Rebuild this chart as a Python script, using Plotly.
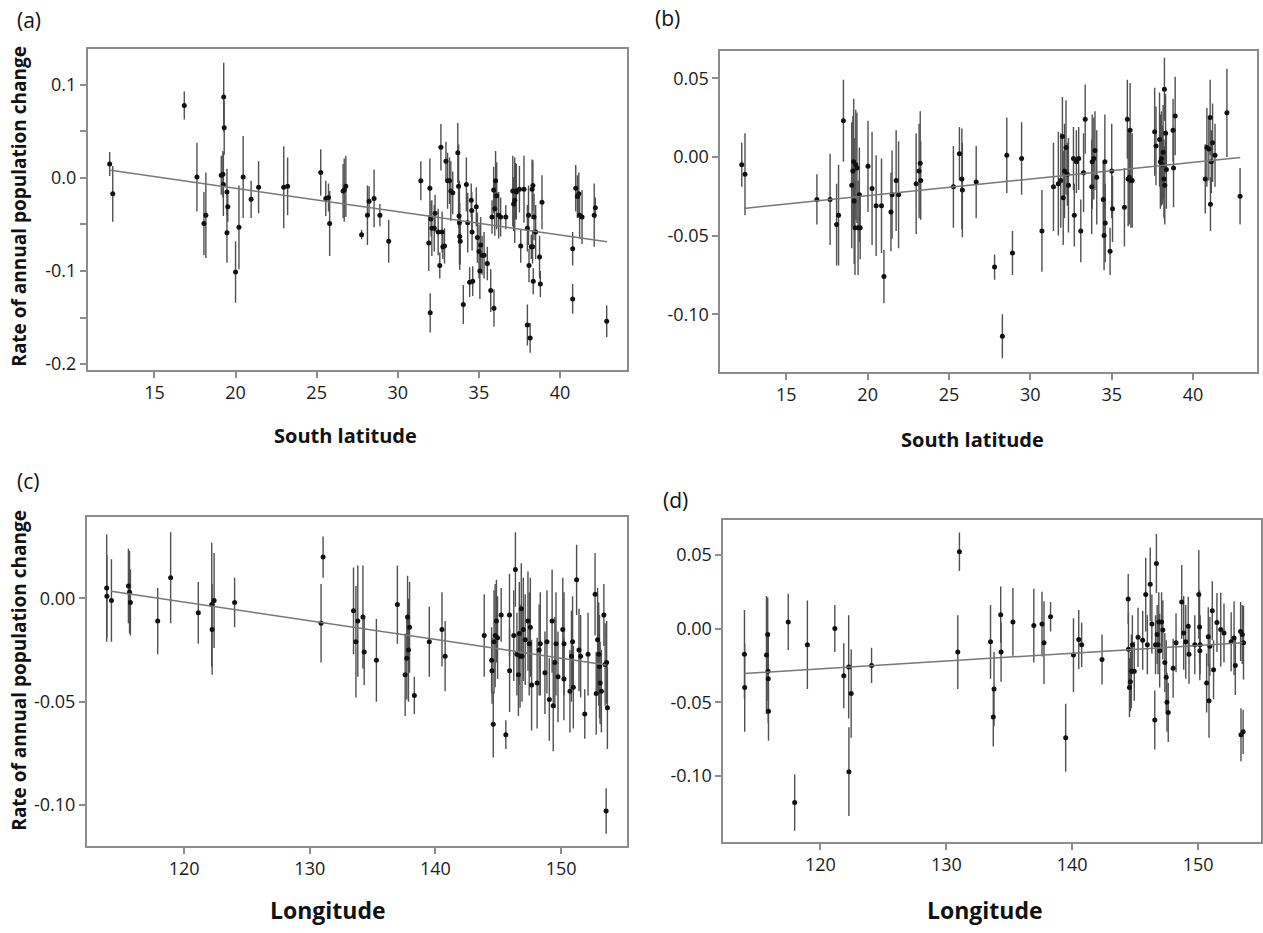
import plotly.graph_objects as go

W, H = 1263, 933

# ---------------- Panel (a): latitude vs rate ----------------
a_lat = [12.24, 12.43, 16.84, 17.62, 18.05, 18.17, 19.12, 19.22, 19.27, 19.30, 19.25, 19.47, 19.47, 19.52,
         20.00, 20.21, 20.47, 20.96, 21.42, 22.97, 23.21, 25.25, 25.56, 25.73, 25.80, 26.63, 26.70, 26.80,
         27.77, 28.13, 28.23, 28.54, 28.90, 29.44, 31.42, 31.91, 31.98, 32.00, 32.05, 32.10, 32.25, 32.30,
         32.49, 32.59, 32.66, 32.73, 32.78, 32.88, 32.97, 33.07, 33.19, 33.27, 33.39, 33.70, 33.75, 33.80,
         33.82, 33.78, 33.85, 34.04, 34.23, 34.31, 34.43, 34.53, 34.56, 34.58, 34.62, 34.84, 34.91, 35.01,
         35.06, 35.11, 35.20, 35.32, 35.52, 35.73, 35.81, 35.91, 35.93, 35.98, 36.03, 36.10, 36.22, 36.34,
         36.66, 37.09, 37.14, 37.21, 37.26, 37.31, 37.50, 37.58, 37.78, 37.99, 37.99, 38.06, 38.09, 38.16,
         38.23, 38.28, 38.33, 38.31, 38.35, 38.40, 38.50, 38.74, 38.79, 38.89, 40.78, 40.78, 40.97, 41.07,
         41.16, 41.21, 41.36, 42.11, 42.18, 42.88]
a_rate = [0.015, -0.017, 0.078, 0.001, -0.049, -0.040, 0.003, 0.004, 0.087, 0.054, -0.007, -0.015, -0.059, -0.031,
          -0.101, -0.053, 0.001, -0.023, -0.010, -0.010, -0.009, 0.006, -0.022, -0.021, -0.049, -0.014, -0.013, -0.009,
          -0.061, -0.040, -0.025, -0.022, -0.040, -0.068, -0.003, -0.070, -0.011, -0.145, -0.044, -0.054, -0.054, -0.038,
          -0.058, -0.094, 0.033, -0.058, -0.074, -0.073, 0.018, -0.003, -0.003, -0.014, -0.016, 0.027, -0.009, -0.048,
          -0.063, -0.041, -0.068, -0.136, -0.007, -0.048, -0.112, -0.024, -0.035, -0.058, -0.111, -0.031, -0.064, -0.079,
          -0.100, -0.072, -0.083, -0.083, -0.092, -0.121, -0.042, -0.013, -0.140, -0.033, -0.003, -0.019, -0.040, -0.042,
          -0.042, -0.014, -0.028, -0.024, -0.014, -0.015, -0.012, -0.073, -0.012, -0.054, -0.158, -0.040, -0.094, -0.172,
          -0.074, -0.012, -0.008, -0.074, -0.111, -0.042, -0.058, -0.085, -0.114, -0.026, -0.076, -0.130, -0.011, -0.020,
          -0.017, -0.040, -0.042, -0.040, -0.032, -0.154]
a_err = [0.013, 0.030, 0.015, 0.037, 0.034, 0.046, 0.021, 0.025, 0.037, 0.029, 0.034, 0.025, 0.032, 0.016,
         0.033, 0.045, 0.044, 0.020, 0.028, 0.044, 0.031, 0.025, 0.019, 0.015, 0.035, 0.029, 0.034, 0.033,
         0.005, 0.032, 0.016, 0.031, 0.012, 0.023, 0.021, 0.030, 0.032, 0.021, 0.019, 0.030, 0.025, 0.020,
         0.025, 0.014, 0.025, 0.022, 0.013, 0.019, 0.021, 0.030, 0.025, 0.032, 0.023, 0.032, 0.045, 0.045,
         0.036, 0.030, 0.025, 0.021, 0.029, 0.032, 0.016, 0.018, 0.020, 0.020, 0.016, 0.021, 0.027, 0.029,
         0.030, 0.030, 0.021, 0.025, 0.018, 0.023, 0.018, 0.025, 0.020, 0.029, 0.032, 0.036, 0.025, 0.021,
         0.013, 0.038, 0.029, 0.046, 0.030, 0.030, 0.025, 0.018, 0.036, 0.025, 0.022, 0.032, 0.018, 0.016,
         0.013, 0.032, 0.027, 0.018, 0.014, 0.025, 0.029, 0.023, 0.014, 0.029, 0.018, 0.016, 0.025, 0.023,
         0.023, 0.025, 0.029, 0.034, 0.011, 0.017]
a_fit_x = [12.3, 42.9]
a_fit_y = [0.0082, -0.0686]

# ---------------- Panel (b): latitude vs rate ----------------
b_lat = [12.26, 12.46, 16.88, 17.69, 18.09, 18.21, 18.51, 19.02, 19.09, 19.14, 19.17, 19.22, 19.27, 19.34,
         19.41, 19.49, 19.54, 20.02, 20.27, 20.52, 20.85, 21.00, 21.43, 21.50, 21.75, 21.90, 22.98, 23.16,
         23.23, 23.26, 25.27, 25.64, 25.79, 25.82, 26.67, 27.80, 28.28, 28.55, 28.90, 29.46, 30.71, 31.42,
         31.72, 31.87, 31.97, 32.02, 32.10, 32.19, 32.27, 32.34, 32.65, 32.70, 32.83, 32.97, 33.10, 33.27,
         33.37, 33.77, 33.80, 33.90, 33.97, 34.08, 34.48, 34.53, 34.58, 34.60, 34.90, 35.00, 35.05, 35.78,
         35.96, 36.01, 36.08, 36.13, 36.18, 36.26, 37.64, 37.72, 37.94, 37.99, 38.06, 38.11, 38.16, 38.21,
         38.24, 38.26, 38.31, 38.36, 38.77, 38.80, 38.90, 40.75, 40.85, 40.97, 41.05, 41.07, 41.12, 41.20,
         41.35, 42.08, 42.89]
b_rate = [-0.005, -0.011, -0.027, -0.027, -0.043, -0.037, 0.023, -0.018, -0.009, -0.003, -0.028, -0.045, -0.005, -0.007,
          -0.045, -0.024, -0.045, -0.006, -0.020, -0.031, -0.031, -0.076, -0.035, -0.024, -0.015, -0.024, -0.017, -0.009,
          -0.004, -0.015, -0.019, 0.002, -0.014, -0.021, -0.016, -0.070, -0.114, 0.001, -0.061, -0.001, -0.047, -0.019,
          -0.017, -0.015, 0.013, -0.026, -0.009, 0.006, -0.011, -0.018, -0.001, -0.037, -0.003, -0.001, -0.047, -0.010,
          0.024, -0.019, -0.003, -0.001, 0.004, -0.013, -0.027, -0.050, -0.003, -0.042, -0.060, -0.009, -0.033, -0.032,
          0.024, -0.014, -0.013, 0.017, -0.015, -0.015, 0.016, 0.007, 0.011, -0.003, -0.001, -0.005, 0.003, -0.014,
          0.043, -0.018, 0.015, -0.008, 0.017, -0.007, 0.026, -0.014, 0.006, 0.005, 0.025, -0.030, -0.003, 0.009,
          0.001, 0.028, -0.025]
b_err = [0.014, 0.026, 0.016, 0.029, 0.026, 0.032, 0.026, 0.040, 0.035, 0.040, 0.040, 0.030, 0.035, 0.035,
         0.030, 0.030, 0.020, 0.029, 0.036, 0.032, 0.030, 0.017, 0.025, 0.028, 0.032, 0.034, 0.032, 0.030,
         0.033, 0.025, 0.026, 0.017, 0.032, 0.030, 0.023, 0.008, 0.014, 0.024, 0.014, 0.023, 0.026, 0.028,
         0.033, 0.030, 0.025, 0.030, 0.030, 0.030, 0.020, 0.030, 0.020, 0.020, 0.020, 0.020, 0.020, 0.025,
         0.022, 0.030, 0.030, 0.026, 0.025, 0.030, 0.024, 0.022, 0.030, 0.025, 0.015, 0.030, 0.021, 0.025,
         0.025, 0.030, 0.030, 0.030, 0.030, 0.030, 0.028, 0.025, 0.030, 0.030, 0.030, 0.025, 0.030, 0.025,
         0.020, 0.025, 0.025, 0.025, 0.020, 0.025, 0.025, 0.022, 0.025, 0.020, 0.024, 0.017, 0.020, 0.025,
         0.020, 0.028, 0.018]
b_fit_x = [12.4, 42.9]
b_fit_y = [-0.0327, -0.0004]

# ---------------- Panel (c): longitude vs rate ----------------
c_lon = [113.84, 113.86, 114.22, 115.57, 115.66, 115.73, 117.90, 118.93, 121.13, 122.20, 122.23, 122.39, 124.02,
         130.90, 131.06, 133.48, 133.67, 133.82, 134.23, 134.33, 135.30, 136.97, 137.59, 137.72, 137.78, 137.85,
         137.94, 138.32, 139.51, 140.52, 140.77, 143.88, 144.47, 144.50, 144.60, 144.66, 144.75, 144.85, 144.94,
         145.23, 145.60, 145.89, 145.90, 146.23, 146.36, 146.48, 146.60, 146.67, 146.73, 146.83, 146.89, 146.99,
         147.14, 147.36, 147.46, 147.55, 147.65, 148.09, 148.25, 148.34, 148.71, 148.87, 149.06, 149.28, 149.37,
         149.50, 149.59, 149.75, 150.13, 150.22, 150.23, 150.70, 150.82, 150.91, 150.97, 151.23, 151.42, 151.55,
         151.88, 152.14, 152.70, 152.79, 152.90, 152.99, 153.05, 153.10, 153.20, 153.40, 153.50, 153.62, 153.68,
         153.58]
c_rate = [0.005, 0.001, -0.001, 0.006, 0.003, -0.002, -0.011, 0.010, -0.007, -0.003, -0.015, -0.001, -0.002,
          -0.012, 0.020, -0.006, -0.021, -0.011, -0.009, -0.026, -0.030, -0.003, -0.037, -0.029, -0.009, -0.025,
          -0.014, -0.047, -0.021, -0.015, -0.028, -0.018, -0.030, -0.035, -0.061, -0.021, -0.018, -0.011, -0.019,
          -0.008, -0.066, -0.008, -0.035, -0.018, 0.014, -0.027, -0.037, -0.017, -0.028, -0.005, -0.028, -0.015,
          -0.020, -0.011, -0.022, -0.014, -0.042, -0.041, -0.025, -0.022, -0.036, -0.021, -0.049, -0.011, -0.052,
          -0.031, -0.022, -0.038, -0.015, -0.039, -0.022, -0.045, -0.028, -0.021, -0.043, 0.009, -0.025, -0.028,
          -0.056, -0.027, 0.002, -0.046, -0.020, -0.027, -0.033, -0.041, -0.045, -0.008, -0.032, -0.031, -0.053,
          -0.103]
c_err = [0.026, 0.020, 0.020, 0.018, 0.020, 0.016, 0.016, 0.022, 0.015, 0.030, 0.022, 0.023, 0.012,
         0.019, 0.010, 0.021, 0.027, 0.027, 0.025, 0.016, 0.020, 0.019, 0.020, 0.020, 0.020, 0.025,
         0.022, 0.009, 0.017, 0.018, 0.017, 0.020, 0.016, 0.016, 0.016, 0.025, 0.025, 0.020, 0.020,
         0.013, 0.007, 0.020, 0.020, 0.022, 0.018, 0.020, 0.020, 0.025, 0.025, 0.022, 0.022, 0.025,
         0.022, 0.024, 0.025, 0.024, 0.022, 0.022, 0.022, 0.025, 0.020, 0.025, 0.020, 0.025, 0.022,
         0.022, 0.025, 0.022, 0.025, 0.020, 0.025, 0.020, 0.022, 0.022, 0.020, 0.017, 0.020, 0.020,
         0.012, 0.020, 0.020, 0.020, 0.025, 0.025, 0.025, 0.020, 0.020, 0.015, 0.020, 0.020, 0.020,
         0.011]
c_fit_x = [114.2, 153.6]
c_fit_y = [0.0035, -0.0322]

# ---------------- Panel (d): longitude vs rate ----------------
d_lon = [113.96, 113.98, 115.71, 115.81, 115.83, 115.85, 115.87, 117.44, 117.95, 118.96, 121.14, 121.85, 122.24,
         122.26, 122.44, 124.06, 130.91, 131.04, 133.51, 133.73, 133.79, 134.32, 134.35, 135.29, 136.95, 137.60,
         137.76, 138.28, 139.48, 140.10, 140.52, 140.75, 142.37, 144.45, 144.47, 144.55, 144.62, 144.70, 144.78,
         144.93, 145.23, 145.60, 145.84, 145.97, 146.20, 146.33, 146.56, 146.62, 146.69, 146.75, 146.82, 146.88,
         146.95, 147.10, 147.20, 147.36, 147.47, 147.53, 147.63, 148.02, 148.25, 148.70, 148.86, 149.02, 149.22,
         149.28, 149.74, 150.06, 150.12, 150.14, 150.16, 150.68, 150.81, 150.87, 150.94, 151.13, 151.23, 151.50,
         151.80, 152.06, 152.63, 152.86, 152.96, 153.38, 153.41, 153.51, 153.58, 153.61]
d_rate = [-0.0175, -0.040, -0.018, -0.004, -0.029, -0.034, -0.056, 0.0045, -0.118, -0.011, 0.000, -0.032, -0.026,
          -0.097, -0.044, -0.025, -0.016, 0.052, -0.009, -0.060, -0.041, 0.0094, -0.016, 0.0045, 0.002, 0.003,
          -0.0096, 0.008, -0.074, -0.018, -0.0074, -0.011, -0.021, 0.020, -0.014, -0.040, -0.036, -0.029, -0.011,
          -0.029, -0.006, -0.008, 0.023, -0.011, 0.030, 0.003, -0.062, -0.011, 0.044, -0.004, -0.011, 0.0045,
          -0.015, 0.0045, -0.001, -0.023, -0.033, -0.050, -0.057, -0.027, -0.0096, 0.018, -0.003, -0.009, 0.0016,
          -0.0175, -0.011, 0.023, 0.001, -0.015, -0.011, -0.037, -0.0056, -0.049, -0.012, 0.012, -0.028, 0.004,
          -0.0007, -0.003, -0.009, -0.0065, -0.025, -0.002, -0.072, -0.004, -0.070, -0.0096]
d_err = [0.030, 0.030, 0.040, 0.025, 0.020, 0.030, 0.020, 0.019, 0.019, 0.030, 0.016, 0.022, 0.035,
         0.030, 0.030, 0.012, 0.025, 0.013, 0.025, 0.020, 0.025, 0.019, 0.020, 0.023, 0.025, 0.022,
         0.028, 0.010, 0.023, 0.025, 0.020, 0.015, 0.017, 0.017, 0.025, 0.020, 0.020, 0.025, 0.020,
         0.020, 0.020, 0.020, 0.025, 0.020, 0.025, 0.020, 0.020, 0.020, 0.020, 0.020, 0.020, 0.020,
         0.025, 0.020, 0.020, 0.020, 0.025, 0.020, 0.020, 0.020, 0.020, 0.025, 0.025, 0.025, 0.020,
         0.020, 0.020, 0.030, 0.025, 0.020, 0.020, 0.020, 0.020, 0.025, 0.020, 0.020, 0.020, 0.020,
         0.025, 0.020, 0.020, 0.025, 0.020, 0.020, 0.018, 0.020, 0.015, 0.025]
d_fit_x = [113.96, 153.54]
d_fit_y = [-0.0305, -0.0096]

# ---------------- tick labels ----------------
lat_ticks = [15, 20, 25, 30, 35, 40]
lat_ticktext = ["15", "20", "25", "30", "35", "40"]
lon_ticks = [120, 130, 140, 150]
lon_ticktext = ["120", "130", "140", "150"]
a_yticks = [0.1, 0.0, -0.1, -0.2]
a_yticktext = ["0.1", "0.0", "-0.1", "-0.2"]
a_yminor = [0.05, -0.05, -0.15]
b_yticks = [0.05, 0.0, -0.05, -0.10]
b_yticktext = ["0.05", "0.00", "-0.05", "-0.10"]
c_yticks = [0.0, -0.05, -0.10]
c_yticktext = ["0.00", "-0.05", "-0.10"]
d_yticks = [0.05, 0.0, -0.05, -0.10]
d_yticktext = ["0.05", "0.00", "-0.05", "-0.10"]

panel_labels = ["(a)", "(b)", "(c)", "(d)"]
ytitle = "Rate of annual population change"
xtitle_lat = "South latitude"
xtitle_lon = "Longitude"

FONT = "Open Sans"
FRAME = "#8c8c8c"

fig = go.Figure()

panels = [
    ("x", "y", a_lat, a_rate, a_err, a_fit_x, a_fit_y),
    ("x2", "y2", b_lat, b_rate, b_err, b_fit_x, b_fit_y),
    ("x3", "y3", c_lon, c_rate, c_err, c_fit_x, c_fit_y),
    ("x4", "y4", d_lon, d_rate, d_err, d_fit_x, d_fit_y),
]
for xa, ya, xs, ys, es, fx, fy in panels:
    fig.add_trace(go.Scatter(
        x=xs, y=ys, xaxis=xa, yaxis=ya, mode="markers",
        marker=dict(color="#111111", size=5),
        error_y=dict(type="data", array=es, symmetric=True, color="#505050", thickness=1.4, width=0),
        showlegend=False, hoverinfo="skip"))
    fig.add_trace(go.Scatter(
        x=fx, y=fy, xaxis=xa, yaxis=ya, mode="lines",
        line=dict(color="#777777", width=1.5), showlegend=False, hoverinfo="skip"))

def px_x(p):
    return p / W

def px_y(p):
    return 1 - p / H

def ax_common():
    return dict(showline=True, mirror=True, linecolor=FRAME, linewidth=2,
                ticks="outside", ticklen=6, tickwidth=1.5, tickcolor=FRAME,
                showgrid=False, zeroline=False,
                tickfont=dict(family=FONT, size=18, color="#1a1a1a"))

layout = dict(
    width=W, height=H, margin=dict(l=0, r=0, t=0, b=0),
    paper_bgcolor="white", plot_bgcolor="white", showlegend=False,
)
# panel (a)
layout["xaxis"] = dict(domain=[px_x(88), px_x(627)], range=[10.9, 44.1], anchor="y",
                       tickvals=lat_ticks, ticktext=lat_ticktext, **ax_common())
layout["yaxis"] = dict(domain=[px_y(372), px_y(49)], range=[-0.206, 0.139], anchor="x",
                       tickvals=a_yticks, ticktext=a_yticktext,
                       minor=dict(tickvals=a_yminor, ticks="outside", ticklen=6, tickcolor=FRAME, tickwidth=1.5),
                       **ax_common())
# panel (b)
layout["xaxis2"] = dict(domain=[px_x(721), px_x(1258)], range=[10.95, 43.93], anchor="y2",
                        tickvals=lat_ticks, ticktext=lat_ticktext, **ax_common())
layout["yaxis2"] = dict(domain=[px_y(374), px_y(51)], range=[-0.1364, 0.0675], anchor="x2",
                        tickvals=b_yticks, ticktext=b_yticktext, **ax_common())
# panel (c)
layout["xaxis3"] = dict(domain=[px_x(87), px_x(627)], range=[112.27, 155.2], anchor="y3",
                        tickvals=lon_ticks, ticktext=lon_ticktext, **ax_common())
layout["yaxis3"] = dict(domain=[px_y(851), px_y(520)], range=[-0.1197, 0.0396], anchor="x3",
                        tickvals=c_yticks, ticktext=c_yticktext, **ax_common())
# panel (d)
layout["xaxis4"] = dict(domain=[px_x(724), px_x(1262)], range=[112.29, 155.0], anchor="y4",
                        tickvals=lon_ticks, ticktext=lon_ticktext, **ax_common())
layout["yaxis4"] = dict(domain=[px_y(847), px_y(523)], range=[-0.1444, 0.0738], anchor="x4",
                        tickvals=d_yticks, ticktext=d_yticktext, **ax_common())

fig.update_layout(**layout)

annots = []
label_pos = [(29, 20), (668, 18), (28, 484), (676, 503)]
for lab, (lx, ly) in zip(panel_labels, label_pos):
    annots.append(dict(text=lab, x=px_x(lx), y=px_y(ly), xref="paper", yref="paper",
                       showarrow=False, xanchor="center", yanchor="middle",
                       font=dict(family=FONT, size=21, color="#111111")))
for cy in (207, 674):
    annots.append(dict(text="<b>" + ytitle + "</b>", x=px_x(19), y=px_y(cy), xref="paper", yref="paper",
                       showarrow=False, textangle=-90, xanchor="center", yanchor="middle",
                       font=dict(family=FONT, size=19, color="#111111")))
for tx, (cx, cy), fs in [(xtitle_lat, (346, 438), 20), (xtitle_lat, (973, 442), 20),
                         (xtitle_lon, (328, 916), 23), (xtitle_lon, (986, 916), 23)]:
    annots.append(dict(text="<b>" + tx + "</b>", x=px_x(cx), y=px_y(cy), xref="paper", yref="paper",
                       showarrow=False, xanchor="center", yanchor="middle",
                       font=dict(family=FONT, size=fs, color="#111111")))
fig.update_layout(annotations=annots)

fig.write_html("out.html")
